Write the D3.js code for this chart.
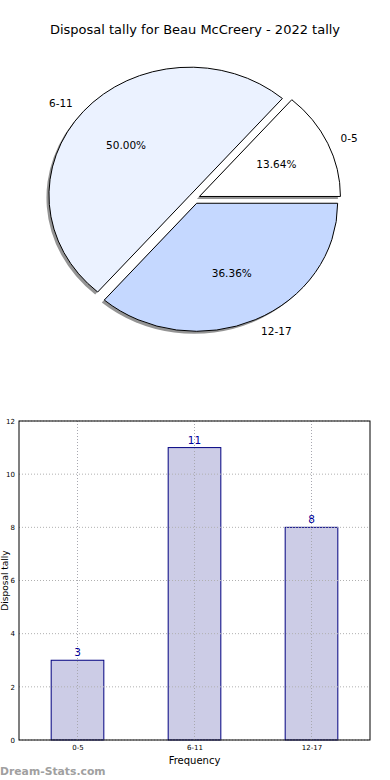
<!DOCTYPE html>
<html><head><meta charset="utf-8">
<script src="https://cdn.jsdelivr.net/npm/d3@7"></script>
<style>body{margin:0;background:#fff}svg{display:block;font-family:"DejaVu Sans",sans-serif}</style>
</head><body>
<script>
const categories = ["0-5", "6-11", "12-17"];
const counts = [3, 11, 8];
const sliceColors = ["#ffffff", "#ebf2ff", "#c5d8ff"];
const yTicks = [0, 2, 4, 6, 8, 10, 12];
const title = "Disposal tally for Beau McCreery - 2022 tally";

const W = 390, H = 780;
const svg = d3.select("body").append("svg").attr("width", W).attr("height", H);

svg.append("text").attr("x", 195).attr("y", 34).attr("text-anchor", "middle")
  .attr("font-size", 13).attr("fill", "#000").text(title);

// ---- Pie ----
const cx = 194.3, cy = 198.6, rx = 141, ry = 128, explode = 0.04;
const total = d3.sum(counts);
const pie = d3.pie().sort(null).startAngle(Math.PI / 2).endAngle(Math.PI / 2 - 2 * Math.PI);
const arcs = pie(counts);
const arcGen = d3.arc().innerRadius(0).outerRadius(1);

arcs.forEach((a) => {
  const mid = (a.startAngle + a.endAngle) / 2;
  const dx = Math.sin(mid), dy = -Math.cos(mid);
  a.tx = cx + explode * rx * dx; a.ty = cy + explode * ry * dy; a.dx = dx; a.dy = dy;
});
arcs.forEach((a) => {
  svg.append("path").attr("d", arcGen(a))
    .attr("transform", `translate(${a.tx - 2.5},${a.ty + 2.5}) scale(${rx},${ry})`)
    .attr("fill", "#000").attr("fill-opacity", 0.42);
});
arcs.forEach((a, i) => {
  svg.append("path").attr("d", arcGen(a))
    .attr("transform", `translate(${a.tx},${a.ty}) scale(${rx},${ry})`)
    .attr("fill", sliceColors[i]).attr("stroke", "#000").attr("stroke-width", 1)
    .attr("vector-effect", "non-scaling-stroke");
});
arcs.forEach((a, i) => {
  const lx = a.tx + 1.1 * rx * a.dx, ly = a.ty + 1.1 * ry * a.dy;
  svg.append("text").attr("x", lx).attr("y", ly).attr("dy", "0.35em")
    .attr("text-anchor", a.dx > 0 ? "start" : "end")
    .attr("font-size", 10.5).text(categories[i]);
  const px = a.tx + 0.6 * rx * a.dx, py = a.ty + 0.6 * ry * a.dy;
  svg.append("text").attr("x", px).attr("y", py).attr("dy", "0.35em")
    .attr("text-anchor", "middle").attr("font-size", 10.5)
    .text((counts[i] / total * 100).toFixed(2) + "%");
});

// ---- Bar chart ----
const L = 19, R = 370, T = 421, B = 740;
const x = d3.scaleLinear().domain([-0.5, 2.5]).range([L, R]);
const y = d3.scaleLinear().domain([0, 12]).range([B, T]);
const g = svg.append("g");

const bw = 0.45;
g.selectAll(".bar").data(counts).join("rect")
  .attr("x", (d, i) => x(i - bw / 2)).attr("width", x(bw) - x(0))
  .attr("y", d => y(d)).attr("height", d => B - y(d))
  .attr("fill", "#cccce6").attr("stroke", "#000080").attr("stroke-width", 1);

g.selectAll(".vg").data(categories).join("line")
  .attr("x1", (d, i) => x(i)).attr("x2", (d, i) => x(i)).attr("y1", T).attr("y2", B)
  .attr("stroke", "#a8a8b0").attr("stroke-dasharray", "1,2").attr("stroke-width", 1);
g.selectAll(".hg").data(yTicks).join("line")
  .attr("x1", L).attr("x2", R).attr("y1", d => y(d)).attr("y2", d => y(d))
  .attr("stroke", "#b0b0b0").attr("stroke-dasharray", "1,2").attr("stroke-width", 1);

g.selectAll(".val").data(counts).join("text")
  .attr("x", (d, i) => x(i)).attr("y", d => y(d) - 4).attr("text-anchor", "middle")
  .attr("font-size", 10.5).attr("fill", "#000099").text(d => d);

g.append("rect").attr("x", L).attr("y", T).attr("width", R - L).attr("height", B - T)
  .attr("fill", "none").attr("stroke", "#000").attr("stroke-width", 1);

const yAxis = d3.axisLeft(y).tickValues(yTicks).tickSize(0).tickPadding(4);
const ya = svg.append("g").attr("transform", `translate(${L},0)`).call(yAxis);
ya.select(".domain").remove();
ya.selectAll("text").attr("font-size", 7).attr("font-family", "DejaVu Sans").attr("fill", "#000");

const xAxis = d3.axisBottom(x).tickValues([0, 1, 2]).tickFormat(i => categories[i]).tickSize(0).tickPadding(5);
const xa = svg.append("g").attr("transform", `translate(0,${B})`).call(xAxis);
xa.select(".domain").remove();
xa.selectAll("text").attr("font-size", 7).attr("font-family", "DejaVu Sans").attr("fill", "#000");

svg.append("text").attr("x", (L + R) / 2).attr("y", 764).attr("text-anchor", "middle")
  .attr("font-size", 10).text("Frequency");
svg.append("text").attr("transform", `translate(8,${(T + B) / 2}) rotate(-90)`)
  .attr("text-anchor", "middle").attr("font-size", 9).text("Disposal tally");

svg.append("text").attr("x", 0).attr("y", 775).attr("font-size", 10.8).attr("font-weight", "bold")
  .attr("fill", "#a0a0a0").text("Dream-Stats.com");
</script>
</body></html>
